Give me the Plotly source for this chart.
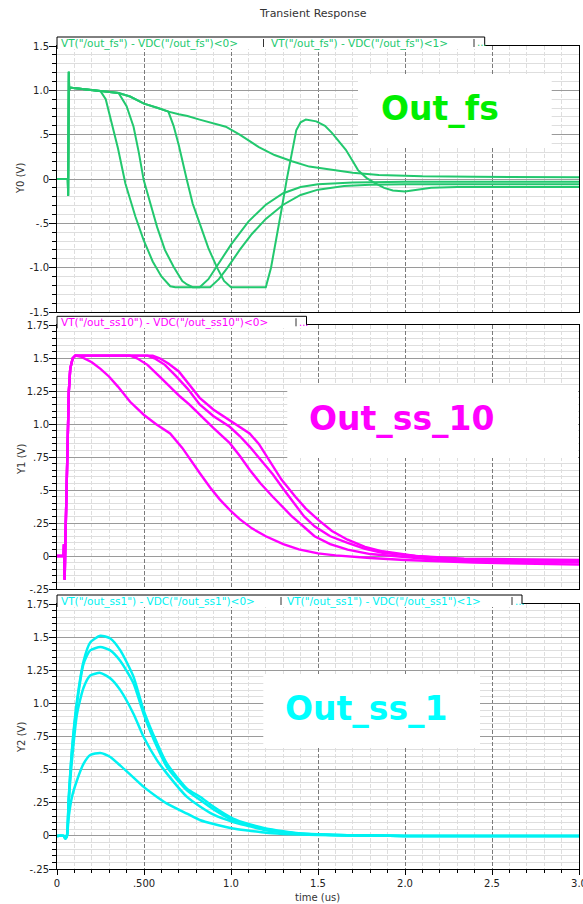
import plotly.graph_objects as go

# ---------------- data ----------------
# Panel 1 : out_fs  (time in us, volts)
fs_start_t = [0.0, 0.062, 0.064, 0.066, 0.068, 0.070, 0.072, 0.08, 0.12, 0.20, 0.25]
fs_start_v = [0.0, 0.0, -0.19, 0.9, 1.21, 1.0, 1.03, 1.03, 1.02, 1.0, 0.99]

fs0_t = fs_start_t + [0.28, 0.306, 0.35, 0.393, 0.45, 0.498, 0.55, 0.60, 0.651, 0.68, 0.82, 0.87, 0.92, 1.0, 1.1, 1.2, 1.3, 1.4, 1.5, 1.7, 2.0, 3.0]
fs0_v = fs_start_v + [0.90, 0.70, 0.35, -0.05, -0.42, -0.69, -0.93, -1.10, -1.21, -1.22, -1.22, -1.13, -0.98, -0.74, -0.48, -0.29, -0.16, -0.09, -0.06, -0.04, -0.03, -0.03]

fs1_t = fs_start_t + [0.354, 0.40, 0.44, 0.47, 0.498, 0.54, 0.575, 0.62, 0.67, 0.72, 0.747, 0.78, 0.88, 0.93, 0.98, 1.05, 1.12, 1.2, 1.3, 1.4, 1.5, 1.65, 1.8, 2.0, 3.0]
fs1_v = fs_start_v + [0.97, 0.82, 0.59, 0.30, -0.01, -0.30, -0.54, -0.80, -0.99, -1.15, -1.19, -1.22, -1.22, -1.13, -1.0, -0.80, -0.62, -0.45, -0.29, -0.18, -0.12, -0.08, -0.065, -0.06, -0.06]

fs_top_t = [0.354, 0.42, 0.50, 0.58, 0.64]
fs_top_v = [0.97, 0.93, 0.85, 0.80, 0.76]

fs2_t = fs_start_t + fs_top_t + [0.67, 0.70, 0.745, 0.78, 0.82, 0.87, 0.92, 0.96, 1.0, 1.20, 1.23, 1.26, 1.29, 1.32, 1.35, 1.375, 1.40, 1.43, 1.49, 1.54, 1.58, 1.62, 1.66, 1.70, 1.73, 1.78, 1.83, 1.88, 1.93, 2.0, 2.08, 2.15, 2.3, 3.0]
fs2_v = fs_start_v + fs_top_v + [0.60, 0.38, 0.0, -0.28, -0.50, -0.78, -1.0, -1.15, -1.22, -1.22, -1.0, -0.69, -0.35, -0.01, 0.30, 0.55, 0.64, 0.67, 0.65, 0.60, 0.52, 0.43, 0.33, 0.20, 0.10, 0.01, -0.05, -0.10, -0.13, -0.14, -0.12, -0.10, -0.09, -0.09]

fs3_t = fs_start_t + fs_top_t + [0.70, 0.75, 0.82, 0.90, 0.97, 1.05, 1.16, 1.25, 1.35, 1.45, 1.58, 1.70, 1.85, 2.1, 2.4, 3.0]
fs3_v = fs_start_v + fs_top_v + [0.73, 0.71, 0.67, 0.63, 0.59, 0.50, 0.36, 0.27, 0.20, 0.14, 0.10, 0.07, 0.045, 0.03, 0.025, 0.02]

# Panel 2 : out_ss10
ss10_start_t = [0.0, 0.038, 0.040, 0.044, 0.048, 0.055, 0.062, 0.068, 0.076, 0.09, 0.105]
ss10_start_v = [0.0, 0.0, 0.09, -0.18, 0.10, 0.60, 1.0, 1.25, 1.42, 1.50, 1.52]

ss10_0_t = ss10_start_t + [0.14, 0.20, 0.25, 0.30, 0.35, 0.42, 0.50, 0.57, 0.65, 0.72, 0.78, 0.82, 0.88, 0.935, 1.0, 1.05, 1.12, 1.2, 1.3, 1.39, 1.5, 1.6, 1.8, 2.0, 2.4, 3.0]
ss10_0_v = ss10_start_v + [1.51, 1.47, 1.42, 1.36, 1.285, 1.17, 1.07, 1.0, 0.93, 0.82, 0.70, 0.63, 0.52, 0.43, 0.34, 0.28, 0.21, 0.15, 0.09, 0.05, 0.02, 0.005, -0.015, -0.03, -0.05, -0.065]

ss10_1_t = ss10_start_t + [0.42, 0.46, 0.52, 0.59, 0.65, 0.707, 0.76, 0.82, 0.90, 0.993, 1.05, 1.107, 1.17, 1.24, 1.30, 1.35, 1.42, 1.48, 1.57, 1.67, 1.8, 1.96, 2.2, 2.6, 3.0]
ss10_1_v = ss10_start_v + [1.52, 1.50, 1.45, 1.36, 1.28, 1.21, 1.15, 1.07, 0.97, 0.856, 0.76, 0.654, 0.55, 0.45, 0.37, 0.30, 0.22, 0.15, 0.09, 0.048, 0.015, -0.005, -0.03, -0.045, -0.05]

ss10_2_t = ss10_start_t + [0.52, 0.56, 0.62, 0.68, 0.75, 0.82, 0.90, 0.993, 1.05, 1.107, 1.17, 1.24, 1.30, 1.37, 1.42, 1.48, 1.57, 1.67, 1.77, 1.87, 2.06, 2.3, 3.0]
ss10_2_v = ss10_start_v + [1.52, 1.50, 1.45, 1.37, 1.27, 1.15, 1.06, 0.98, 0.91, 0.83, 0.73, 0.62, 0.51, 0.39, 0.30, 0.225, 0.15, 0.10, 0.055, 0.025, 0.0, -0.025, -0.04]

ss10_3_t = ss10_start_t + [0.55, 0.59, 0.64, 0.70, 0.76, 0.82, 0.90, 0.993, 1.05, 1.107, 1.16, 1.22, 1.29, 1.37, 1.43, 1.50, 1.58, 1.67, 1.77, 1.87, 2.06, 2.34, 3.0]
ss10_3_v = ss10_start_v + [1.52, 1.50, 1.46, 1.40, 1.30, 1.20, 1.11, 1.03, 0.98, 0.93, 0.85, 0.73, 0.58, 0.45, 0.36, 0.276, 0.19, 0.124, 0.07, 0.036, 0.0, -0.02, -0.03]

# Panel 3 : out_ss1
ss1_t = [0.0, 0.038, 0.048, 0.057, 0.067, 0.086, 0.115, 0.153, 0.191, 0.249, 0.306, 0.364, 0.44, 0.498, 0.575, 0.632, 0.747, 0.824, 0.90, 1.012, 1.10, 1.20, 1.30, 1.39, 1.50, 1.67, 1.80, 2.0, 3.0]
ss1_0_v = [0.0, 0.0, -0.02, 0.0, 0.14, 0.294, 0.42, 0.545, 0.61, 0.626, 0.595, 0.53, 0.44, 0.37, 0.294, 0.244, 0.168, 0.118, 0.09, 0.056, 0.04, 0.023, 0.015, 0.01, 0.006, 0.003, 0.002, 0.0, 0.0]
ss1_1_v = [0.0, 0.0, -0.02, 0.0, 0.25, 0.57, 0.92, 1.12, 1.21, 1.23, 1.19, 1.10, 0.92, 0.746, 0.57, 0.47, 0.294, 0.22, 0.16, 0.105, 0.075, 0.043, 0.028, 0.016, 0.01, 0.004, 0.002, 0.0, 0.0]
ss1_2_v = [0.0, 0.0, -0.02, 0.0, 0.27, 0.64, 1.0, 1.30, 1.40, 1.425, 1.40, 1.32, 1.15, 0.92, 0.67, 0.52, 0.344, 0.27, 0.20, 0.118, 0.085, 0.048, 0.03, 0.018, 0.011, 0.004, 0.002, 0.0, 0.0]
ss1_3_v = [0.0, 0.0, -0.02, 0.0, 0.27, 0.65, 1.02, 1.32, 1.46, 1.51, 1.49, 1.40, 1.20, 0.947, 0.70, 0.545, 0.357, 0.294, 0.22, 0.131, 0.09, 0.056, 0.035, 0.02, 0.012, 0.004, 0.002, 0.0, 0.0]

x_tickvals = [0, 0.5, 1.0, 1.5, 2.0, 2.5, 3.0]
x_ticktext = ["0", ".500", "1.0", "1.5", "2.0", "2.5", "3.0"]
y0_tickvals = [-1.5, -1.0, -0.5, 0, 0.5, 1.0, 1.5]
y0_ticktext = ["-1.5", "-1.0", "-.5", "0", ".5", "1.0", "1.5"]
y12_tickvals = [-0.25, 0, 0.25, 0.5, 0.75, 1.0, 1.25, 1.5, 1.75]
y12_ticktext = ["-.25", "0", ".25", ".5", ".75", "1.0", "1.25", "1.5", "1.75"]

# ---------------- layout helpers ----------------
W, H = 583, 904
L, R, T, B = 57, 4, 46, 35
PW = W - L - R
PH = H - T - B


def fx(px):
    return (px - L) / PW


def fy(py):
    return (H - B - py) / PH


GREEN = "#22c86e"
MAGENTA = "#ff00ff"
CYAN = "#00f2f2"
FONT = "DejaVu Sans"

fig = go.Figure()

for tt, vv in [(fs0_t, fs0_v), (fs1_t, fs1_v), (fs2_t, fs2_v), (fs3_t, fs3_v)]:
    fig.add_trace(go.Scatter(x=tt, y=vv, mode="lines", line=dict(color=GREEN, width=2),
                             xaxis="x", yaxis="y", showlegend=False, hoverinfo="skip"))
for tt, vv in [(ss10_0_t, ss10_0_v), (ss10_1_t, ss10_1_v), (ss10_2_t, ss10_2_v), (ss10_3_t, ss10_3_v)]:
    fig.add_trace(go.Scatter(x=tt, y=vv, mode="lines", line=dict(color=MAGENTA, width=2.4),
                             xaxis="x2", yaxis="y2", showlegend=False, hoverinfo="skip"))
for vv in [ss1_0_v, ss1_1_v, ss1_2_v, ss1_3_v]:
    fig.add_trace(go.Scatter(x=ss1_t, y=vv, mode="lines", line=dict(color=CYAN, width=2.5, shape="spline", smoothing=0.6),
                             xaxis="x3", yaxis="y3", showlegend=False, hoverinfo="skip"))

MAJ_V = "#7a7a7a"
MAJ_H = "#9a9a9a"
MIN_G = "#dedede"


def xaxis_cfg(anchor, bottom):
    d = dict(domain=[0, 1], anchor=anchor, range=[0, 3], tickvals=x_tickvals, ticktext=x_ticktext,
             showgrid=True, gridcolor=MAJ_V, griddash="4px,2px", gridwidth=1, automargin=False,
             zeroline=False, showline=True, linecolor="black", linewidth=1, mirror=True,
             ticklabeloverflow="allow",
             tickfont=dict(family=FONT, size=10, color="#222"),
             minor=dict(tickmode="linear", tick0=0, dtick=0.1, showgrid=True, gridcolor=MIN_G, gridwidth=1))
    if bottom:
        d.update(ticks="outside", ticklen=5, tickcolor="black", showticklabels=True)
        d["minor"].update(ticks="outside", ticklen=3, tickcolor="black")
    else:
        d.update(ticks="", showticklabels=False)
    return d


def yaxis_cfg(anchor, dom, rng, tv, tt, mdt):
    return dict(domain=dom, anchor=anchor, range=rng, tickvals=tv, ticktext=tt, automargin=False,
                showgrid=True, gridcolor=MAJ_H, gridwidth=1, zeroline=False,
                showline=True, linecolor="black", linewidth=1, mirror=True,
                ticks="outside", ticklen=7, tickcolor="black", ticklabelstandoff=-2,
                tickfont=dict(family=FONT, size=10, color="#222"),
                minor=dict(tickmode="linear", tick0=0, dtick=mdt, showgrid=True, gridcolor=MIN_G,
                           gridwidth=1, ticks="outside", ticklen=4, tickcolor="black"))


fig.update_layout(
    width=W, height=H, margin=dict(l=L, r=R, t=T, b=B, autoexpand=False),
    paper_bgcolor="white", plot_bgcolor="white", showlegend=False,
    xaxis=xaxis_cfg("y", False),
    xaxis2=xaxis_cfg("y2", False),
    xaxis3=xaxis_cfg("y3", True),
    yaxis=yaxis_cfg("x", [fy(312), 1.0], [-1.5, 1.5], y0_tickvals, y0_ticktext, 0.1),
    yaxis2=yaxis_cfg("x2", [fy(589), fy(325.3)], [-0.25, 1.75], y12_tickvals, y12_ticktext, 0.05),
    yaxis3=yaxis_cfg("x3", [0.0, fy(604)], [-0.25, 1.75], y12_tickvals, y12_ticktext, 0.05),
)

shapes = []
annotations = []

# legend tabs
def tab(top_plot, right, seps, dots_left, texts, color):
    ytop = top_plot - 9
    shapes.append(dict(type="rect", xref="paper", yref="paper", x0=fx(57), x1=fx(right),
                       y0=fy(top_plot + 3), y1=fy(ytop), fillcolor="white", line=dict(width=0), layer="above"))
    shapes.append(dict(type="path", xref="paper", yref="paper",
                       path=f"M {fx(57)},{fy(top_plot + 3)} L {fx(57)},{fy(ytop)} L {fx(right)},{fy(ytop)} L {fx(right)},{fy(top_plot)}",
                       line=dict(color="black", width=1), layer="above"))
    for s in seps + [dots_left]:
        shapes.append(dict(type="line", xref="paper", yref="paper", x0=fx(s), x1=fx(s),
                           y0=fy(top_plot + 1), y1=fy(ytop + 2), line=dict(color="#333", width=1), layer="above"))
    for xs, txt in texts:
        annotations.append(dict(x=fx(xs), y=fy(top_plot - 2.5), xref="paper", yref="paper", text=txt,
                                showarrow=False, xanchor="left", yanchor="middle",
                                font=dict(family=FONT, size=10.5, color=color)))
    annotations.append(dict(x=fx(dots_left + 1), y=fy(top_plot - 3), xref="paper", yref="paper", text="...",
                            showarrow=False, xanchor="left", yanchor="middle",
                            font=dict(family=FONT, size=10, color=color)))


tab(46, 484.7, [263.5], 474, [(59, 'VT("/out_fs") - VDC("/out_fs")<0>'), (269, 'VT("/out_fs") - VDC("/out_fs")<1>')], GREEN)
tab(325.3, 306.5, [], 296, [(59, 'VT("/out_ss10") - VDC("/out_ss10")<0>')], MAGENTA)
tab(604, 522, [281], 512, [(59, 'VT("/out_ss1") - VDC("/out_ss1")<0>'), (285, 'VT("/out_ss1") - VDC("/out_ss1")<1>')], CYAN)

# big labels with white boxes
for (x0, x1, y0, y1, tx, ty, txt, col) in [
    (358, 551.7, 75, 146.7, 379, 108, "Out_fs", "#00ee00"),
    (287.3, 578, 385, 458, 307, 418, "Out_ss_10", "#ff00ff"),
    (263.3, 480, 675, 746.7, 283, 708, "Out_ss_1", "#00ffff"),
]:
    shapes.append(dict(type="rect", xref="paper", yref="paper", x0=fx(x0), x1=fx(x1), y0=fy(y1), y1=fy(y0),
                       fillcolor="white", line=dict(width=0), layer="above"))
    annotations.append(dict(x=fx(tx), y=fy(ty), xref="paper", yref="paper", text=f"<b>{txt}</b>",
                            showarrow=False, xanchor="left", yanchor="middle",
                            font=dict(family=FONT, size=33, color=col)))

# titles
annotations.append(dict(x=fx(313), y=fy(14), xref="paper", yref="paper", text="Transient Response",
                        showarrow=False, xanchor="center", yanchor="middle",
                        font=dict(family=FONT, size=11, color="#333")))
annotations.append(dict(x=fx(317), y=fy(897), xref="paper", yref="paper", text="time (us)",
                        showarrow=False, xanchor="center", yanchor="middle",
                        font=dict(family=FONT, size=10, color="#333")))
for yc, txt in [(179, "Y0 (V)"), (460, "Y1 (V)"), (738, "Y2 (V)")]:
    annotations.append(dict(x=fx(21), y=fy(yc), xref="paper", yref="paper", text=txt, textangle=-90,
                            showarrow=False, xanchor="center", yanchor="middle",
                            font=dict(family=FONT, size=10, color="#333")))

fig.update_layout(shapes=shapes, annotations=annotations)

fig.write_html("out.html", config={"displayModeBar": False},
               post_script="document.body.style.margin='0';")
